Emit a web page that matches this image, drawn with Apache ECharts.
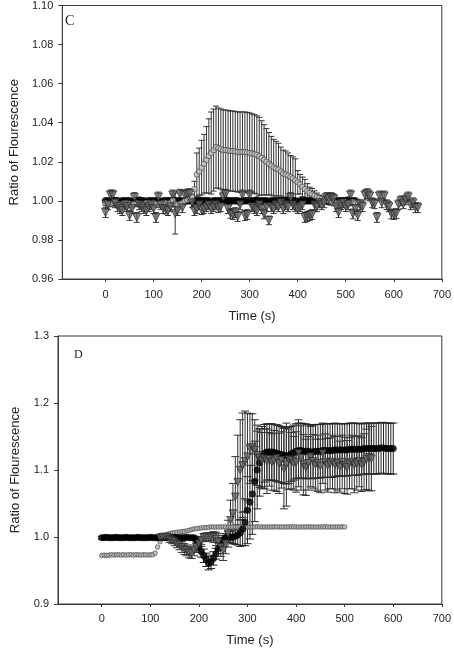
<!DOCTYPE html>
<html>
<head>
<meta charset="utf-8">
<script src="https://cdn.jsdelivr.net/npm/echarts@6/dist/echarts.min.js"></script>
<style>
html,body{margin:0;padding:0;background:#fff;}
#chart{width:454px;height:649px;}
</style>
</head>
<body>
<div id="chart"></div>
<script>
// ---------- shared axis ticks ----------
const X_TICKS = [0, 100, 200, 300, 400, 500, 600, 700];
const STEP_S = 5; // sampling interval (s)

// ---------- Panel C ----------
const C_BLACK_START = 0;
const C_BLACK = [
  1.0, 1.0, 0.9995, 1.0, 1.0, 1.0, 0.9995, 1.0, 1.0, 1.0,
  1.0, 0.9995, 1.0, 1.0, 1.0005, 1.0, 1.0, 0.9995, 1.0, 1.0,
  1.0, 1.0, 1.0, 0.9995, 1.0, 1.0, 1.0, 1.0, 1.0005, 1.0,
  1.0, 1.0, 0.9995, 1.0, 1.0, 1.0, 1.0, 1.0, 1.0, 1.0005,
  1.0, 1.0, 1.0, 1.0, 0.9995, 1.0, 1.0, 1.0, 1.0, 1.0,
  1.0005, 1.0, 1.0, 1.0, 1.0, 1.0, 0.9995, 1.0, 1.0, 1.0,
  1.0, 1.0, 1.0, 1.0005, 1.0, 1.0, 1.0, 1.0, 0.9995, 1.0,
  1.0, 1.0, 1.0, 1.0, 1.0, 1.0, 1.0005, 1.0, 1.0, 1.0,
  0.9995, 1.0, 1.0, 1.0, 1.0, 1.0, 1.0, 1.0, 1.0, 1.0005,
  1.0, 1.0, 1.0, 0.9995, 1.0, 1.0, 1.0, 1.0, 1.0, 1.0,
  1.0, 1.0005, 1.0, 1.0, 1.0
];

const C_GRAY_START = 0;
const C_GRAY = [
  0.999, 0.9985, 0.9985, 0.999, 0.999, 0.9985, 0.998, 0.9985, 0.999, 0.999,
  0.9985, 0.998, 0.9985, 0.999, 0.9985, 0.998, 0.9985, 0.999, 0.999, 0.9985,
  0.999, 0.9985, 0.998, 0.9985, 0.999, 0.999, 0.9985, 0.999, 1.0005, 0.9985,
  0.998, 0.9985, 0.999, 1.0, 1.0005, 1.001, 1.002, 1.006, 1.0135, 1.015,
  1.017, 1.019, 1.021, 1.023, 1.0245, 1.026, 1.0275, 1.027, 1.0265, 1.026,
  1.026, 1.0258, 1.0255, 1.0255, 1.0253, 1.025, 1.025, 1.025, 1.025, 1.0248,
  1.0245, 1.0243, 1.024, 1.0235, 1.0228, 1.022, 1.021, 1.020, 1.019, 1.018,
  1.017, 1.0165, 1.016, 1.015, 1.014, 1.0135, 1.013, 1.0122, 1.0115, 1.0105,
  1.0095, 1.0085, 1.0072, 1.006, 1.0048, 1.004, 1.0033, 1.0026, 1.002, 1.0015,
  1.001, 1.0006, 1.0003, 1.0, 0.9995, 0.999, 0.999, 0.9992, 0.999, 0.9993,
  0.9995, 0.999, 0.9992, 0.9995, 0.999, 0.9993
];
const C_GRAY_ERR = [
  0.0015, 0.0015, 0.0015, 0.0015, 0.0015, 0.0015, 0.0015, 0.0015, 0.0015, 0.0015,
  0.0015, 0.0015, 0.0015, 0.0015, 0.0015, 0.0015, 0.0015, 0.0015, 0.0015, 0.0015,
  0.0015, 0.0015, 0.0015, 0.0015, 0.0015, 0.0015, 0.0015, 0.0015, 0.003, 0.0015,
  0.0015, 0.0015, 0.0015, 0.0015, 0.0015, 0.0015, 0.0015, 0.004, 0.011, 0.012,
  0.014, 0.015, 0.017, 0.019, 0.021, 0.021, 0.021, 0.0205, 0.0205, 0.0205,
  0.0205, 0.0205, 0.0205, 0.0205, 0.0205, 0.0205, 0.0205, 0.0205, 0.0205, 0.0205,
  0.0205, 0.0202, 0.0201, 0.02, 0.02, 0.019, 0.018, 0.017, 0.016, 0.015,
  0.0145, 0.014, 0.0135, 0.0125, 0.012, 0.012, 0.0115, 0.011, 0.011, 0.011,
  0.006, 0.005, 0.005, 0.005, 0.004, 0.003, 0.003, 0.0025, 0.002, 0.0015,
  0.0015, 0.0015, 0.0015, 0.0015, 0.0015, 0.0015, 0.0015, 0.0015, 0.0015, 0.0015,
  0.0015, 0.0015, 0.0015, 0.0015, 0.0015, 0.0015
];

const C_TRI_START = 0;
const C_TRI = [
  0.994, 0.998, 1.003, 1.003, 0.999, 0.997, 0.996, 0.995, 0.998, 0.997,
  0.9925, 0.996, 1.0017, 0.9915, 0.998, 0.997, 0.996, 0.995, 0.997, 0.998,
  0.996, 0.9915, 1.002, 0.998, 0.996, 0.9958, 0.995, 0.997, 1.003, 0.9935,
  0.995, 1.0034, 0.9965, 1.003, 1.0035, 1.0037, 0.999, 0.995, 0.996, 0.998,
  0.9955, 0.996, 0.997, 0.998, 0.996, 0.997, 0.998, 0.9965, 0.997, 1.002,
  1.0034, 0.996, 0.9936, 0.993, 0.994, 0.992, 0.998, 1.003, 0.9925, 0.993,
  1.003, 0.997, 0.996, 0.995, 0.998, 0.996, 0.9933, 0.997, 0.99, 0.997,
  0.996, 0.998, 0.997, 0.999, 0.996, 0.998, 0.997, 1.0017, 0.998, 0.997,
  0.996, 0.997, 0.998, 0.9915, 0.992, 0.9925, 0.993, 0.998, 0.997, 0.999,
  0.998, 0.999, 1.0017, 1.001, 1.0017, 1.001, 0.997, 0.994, 0.998, 0.999,
  0.997, 0.998, 1.003, 0.9933, 0.996, 0.9925, 0.998, 0.997, 1.003, 1.0037,
  1.0025, 0.999, 0.9985, 0.9915, 1.0025, 0.999, 1.0025, 0.998, 0.997, 0.9933,
  0.993, 0.9935, 0.998, 1.0, 0.9985, 1.0005, 1.002, 0.998, 0.999, 0.9965,
  0.9965
];
const C_TRI_ERR = [
  0.0025, 0.0025, 0.0025, 0.0025, 0.0025, 0.0025, 0.0025, 0.0025, 0.0025, 0.0025,
  0.0025, 0.0025, 0.0025, 0.0025, 0.0025, 0.0025, 0.0025, 0.0025, 0.0025, 0.0025,
  0.0025, 0.0025, 0.0025, 0.0025, 0.0025, 0.0025, 0.0025, 0.0025, 0.0025, 0.0105,
  0.0025, 0.0025, 0.0025, 0.0025, 0.0025, 0.0025, 0.0025, 0.0025, 0.0025, 0.0025,
  0.0025, 0.0025, 0.0025, 0.0025, 0.0025, 0.0025, 0.0025, 0.0025, 0.0025, 0.0025,
  0.0025, 0.0025, 0.0025, 0.0025, 0.0025, 0.0025, 0.0025, 0.0025, 0.0025, 0.0025,
  0.0025, 0.0025, 0.0025, 0.0025, 0.0025, 0.0025, 0.0025, 0.0025, 0.0022, 0.0025,
  0.0025, 0.0025, 0.0025, 0.0025, 0.0025, 0.0025, 0.0025, 0.0025, 0.0025, 0.0025,
  0.0025, 0.0025, 0.0025, 0.0025, 0.0025, 0.0025, 0.0025, 0.0025, 0.0025, 0.0025,
  0.0025, 0.0025, 0.0025, 0.0025, 0.0025, 0.0025, 0.0025, 0.0025, 0.0025, 0.0025,
  0.0025, 0.0025, 0.0025, 0.0025, 0.0025, 0.0025, 0.0025, 0.0025, 0.0025, 0.0025,
  0.0025, 0.0025, 0.0025, 0.0025, 0.0025, 0.0025, 0.0025, 0.0025, 0.0025, 0.0025,
  0.0025, 0.0025, 0.0025, 0.0025, 0.0025, 0.0025, 0.0025, 0.0025, 0.0025, 0.0025,
  0.0025
];

// ---------- Panel D ----------
const D_LIGHT_START = 0;
const D_LIGHT = [
  0.9725, 0.973, 0.9725, 0.973, 0.9735, 0.973, 0.9735, 0.9735, 0.973, 0.9735,
  0.973, 0.9735, 0.9735, 0.973, 0.9735, 0.9735, 0.973, 0.9735, 0.9735, 0.973,
  0.9735, 0.9735, 0.976, 0.985, 0.993, 0.999, 1.002, 1.004, 1.005, 1.006,
  1.0065, 1.007, 1.0075, 1.008, 1.0085, 1.009, 1.01, 1.011, 1.012, 1.0125,
  1.013, 1.0135, 1.014, 1.014, 1.0145, 1.015, 1.015, 1.0148, 1.015, 1.015,
  1.0152, 1.015, 1.015, 1.0148, 1.015, 1.015, 1.015, 1.0152, 1.015, 1.015,
  1.0148, 1.015, 1.015, 1.015, 1.0152, 1.015, 1.015, 1.0148, 1.015, 1.015,
  1.015, 1.0152, 1.015, 1.015, 1.0148, 1.015, 1.015, 1.015, 1.0152, 1.015,
  1.015, 1.0148, 1.015, 1.015, 1.015, 1.0152, 1.015, 1.015, 1.0148, 1.015,
  1.015, 1.015, 1.0152, 1.015, 1.015, 1.0148, 1.015, 1.015, 1.015, 1.0152,
  1.015
];

const D_BLACK_START = 0;
const D_BLACK = [
  0.999, 0.999, 0.9995, 0.999, 0.999, 0.999, 0.9995, 0.999, 0.999, 0.999,
  0.9995, 0.999, 0.999, 0.999, 0.999, 0.9995, 0.999, 0.999, 0.999, 0.999,
  0.9995, 0.999, 0.999, 0.999, 0.999, 0.9995, 0.999, 0.999, 0.999, 0.999,
  0.9995, 0.999, 0.999, 0.999, 0.999, 0.9995, 0.999, 0.999, 0.999, 0.995,
  0.985, 0.978, 0.972, 0.966, 0.961, 0.963, 0.968, 0.975, 0.983, 0.99,
  0.996, 0.999, 1.0, 1.0, 1.0, 1.001, 1.003, 1.006, 1.012, 1.022,
  1.04, 1.052, 1.064, 1.083, 1.1, 1.111, 1.12, 1.125, 1.127, 1.127,
  1.127, 1.126, 1.125, 1.124, 1.123, 1.122, 1.121, 1.122, 1.124, 1.126,
  1.128, 1.129, 1.129, 1.128, 1.128, 1.128, 1.127, 1.127, 1.128, 1.128,
  1.128, 1.129, 1.129, 1.129, 1.129, 1.129, 1.13, 1.13, 1.13, 1.13,
  1.13, 1.13, 1.131, 1.131, 1.131, 1.131, 1.131, 1.131, 1.132, 1.132,
  1.132, 1.132, 1.132, 1.132, 1.132, 1.133, 1.133, 1.132, 1.132, 1.132,
  1.132
];
const D_BLACK_ERR = [
  0.002, 0.002, 0.002, 0.002, 0.002, 0.002, 0.002, 0.002, 0.002, 0.002,
  0.002, 0.002, 0.002, 0.002, 0.002, 0.002, 0.002, 0.002, 0.002, 0.002,
  0.002, 0.002, 0.002, 0.002, 0.002, 0.002, 0.002, 0.002, 0.002, 0.002,
  0.002, 0.002, 0.002, 0.002, 0.002, 0.002, 0.002, 0.002, 0.002, 0.004,
  0.006, 0.008, 0.01, 0.01, 0.01, 0.01, 0.01, 0.008, 0.008, 0.006,
  0.006, 0.006, 0.008, 0.008, 0.01, 0.012, 0.015, 0.02, 0.025, 0.035,
  0.05, 0.055, 0.06, 0.06, 0.058, 0.05, 0.045, 0.043, 0.042, 0.042,
  0.042, 0.042, 0.042, 0.042, 0.042, 0.042, 0.042, 0.042, 0.041, 0.041,
  0.041, 0.041, 0.041, 0.041, 0.041, 0.04, 0.04, 0.04, 0.04, 0.04,
  0.04, 0.04, 0.04, 0.04, 0.04, 0.04, 0.04, 0.039, 0.039, 0.039,
  0.039, 0.039, 0.039, 0.039, 0.039, 0.039, 0.038, 0.038, 0.038, 0.038,
  0.038, 0.038, 0.038, 0.038, 0.038, 0.038, 0.038, 0.038, 0.038, 0.038,
  0.038
];

const D_TRI_START = 120;
const D_TRI = [
  0.999, 1.0, 1.0, 1.0, 0.997, 0.995, 0.993, 0.99, 0.988, 0.985,
  0.982, 0.98, 0.977, 0.976, 0.98, 0.985, 0.99, 0.995, 0.999, 1.0,
  1.0, 1.0, 1.0, 0.997, 0.993, 0.985, 0.98, 0.99, 1.005, 1.025,
  1.035, 1.06, 1.082, 1.1, 1.107, 1.113, 1.12, 1.132, 1.134, 1.13,
  1.122, 1.118, 1.114, 1.117, 1.113, 1.116, 1.112, 1.114, 1.118, 1.11,
  1.115, 1.102, 1.108, 1.116, 1.114, 1.11, 1.112, 1.125, 1.118, 1.108,
  1.104, 1.11, 1.12, 1.113, 1.108, 1.11, 1.106, 1.125, 1.112, 1.107,
  1.11, 1.112, 1.108, 1.11, 1.105, 1.112, 1.107, 1.104, 1.11, 1.112,
  1.108, 1.11, 1.113, 1.108, 1.112, 1.116, 1.119, 1.117
];
const D_TRI_ERR = [
  0.004, 0.004, 0.004, 0.004, 0.005, 0.005, 0.006, 0.006, 0.007, 0.008,
  0.008, 0.008, 0.008, 0.008, 0.008, 0.008, 0.008, 0.006, 0.006, 0.006,
  0.006, 0.006, 0.008, 0.01, 0.012, 0.014, 0.015, 0.015, 0.02, 0.03,
  0.045, 0.06, 0.07, 0.075, 0.078, 0.075, 0.065, 0.052, 0.05, 0.045,
  0.045, 0.044, 0.042, 0.045, 0.048, 0.04, 0.042, 0.045, 0.05, 0.045,
  0.042, 0.06, 0.062, 0.045, 0.042, 0.04, 0.045, 0.05, 0.048, 0.045,
  0.042, 0.04, 0.045, 0.04, 0.038, 0.042, 0.04, 0.045, 0.042, 0.04,
  0.038, 0.04, 0.042, 0.04, 0.038, 0.04, 0.042, 0.04, 0.038, 0.04,
  0.042, 0.04, 0.038, 0.04, 0.042, 0.045, 0.05, 0.048
];

// ---------- build ----------
function pts(start, vals, errs) {
  return vals.map((v, i) => [start + i * STEP_S, v, errs ? errs[i] : 0]);
}

const FONT = '"Liberation Sans", Arial, sans-serif';
const AX = '#3a3a3a';

function errBar(color, cap) {
  return function (params, api) {
    const x = api.value(0), y = api.value(1), e = api.value(2);
    const a = api.coord([x, y + e]);
    const b = api.coord([x, y - e]);
    const st = { stroke: color, lineWidth: 1 };
    return {
      type: 'group',
      children: [
        { type: 'line', shape: { x1: a[0], y1: a[1], x2: b[0], y2: b[1] }, style: st },
        { type: 'line', shape: { x1: a[0] - cap, y1: a[1], x2: a[0] + cap, y2: a[1] }, style: st },
        { type: 'line', shape: { x1: b[0] - cap, y1: b[1], x2: b[0] + cap, y2: b[1] }, style: st }
      ]
    };
  };
}

function xAxis(gridIndex, labelMargin, nameGap) {
  return {
    type: 'value', gridIndex, min: -90, max: 700,
    axisLine: { show: true, onZero: false, lineStyle: { color: AX, width: 1 } },
    axisTick: { show: true, length: 3, customValues: X_TICKS, lineStyle: { color: AX } },
    axisLabel: { customValues: X_TICKS, margin: labelMargin, color: '#222', fontSize: 11, fontFamily: FONT },
    splitLine: { show: false },
    name: 'Time (s)', nameLocation: 'middle', nameGap,
    nameTextStyle: { fontSize: 13, fontFamily: FONT, color: '#222' }
  };
}
function yAxis(gridIndex, min, max, interval, digits, nameGap) {
  return {
    type: 'value', gridIndex, min, max, interval,
    axisLine: { show: true, onZero: false, lineStyle: { color: AX, width: 1 } },
    axisTick: { show: true, length: 4, lineStyle: { color: AX } },
    axisLabel: { margin: 9, color: '#222', fontSize: 11, fontFamily: FONT,
      formatter: v => Number(v).toFixed(digits) },
    splitLine: { show: false },
    name: 'Ratio of Flourescence', nameLocation: 'middle', nameGap,
    nameTextStyle: { fontSize: 13, fontFamily: FONT, color: '#222' }
  };
}

const chart = echarts.init(document.getElementById('chart'), null, { renderer: 'canvas' });
chart.setOption({
  animation: false,
  backgroundColor: '#fff',
  grid: [
    { left: 52, top: 4, width: 393, height: 275, show: true, borderColor: AX, borderWidth: 1, backgroundColor: 'transparent' },
    { left: 58, top: 336, width: 384, height: 268, show: true, borderColor: AX, borderWidth: 1, backgroundColor: 'transparent' }
  ],
  xAxis: [xAxis(0, 10, 31), xAxis(1, 9, 30)],
  yAxis: [yAxis(0, 0.96, 1.10, 0.02, 2, 41), yAxis(1, 0.9, 1.3, 0.1, 1, 36)],
  graphic: [
    { type: 'text', left: 65, top: 14, style: { text: 'C', font: '14px "Liberation Serif", serif', fill: '#222' } },
    { type: 'text', left: 74, top: 349, style: { text: 'D', font: '12px "Liberation Serif", serif', fill: '#222' } }
  ],
  series: [
    // Panel C
    { type: 'custom', xAxisIndex: 0, yAxisIndex: 0, renderItem: errBar('#333', 3),
      data: pts(C_GRAY_START, C_GRAY, C_GRAY_ERR), z: 1 },
    { type: 'custom', xAxisIndex: 0, yAxisIndex: 0, renderItem: errBar('#333', 3),
      data: pts(C_TRI_START, C_TRI, C_TRI_ERR), z: 1 },
    { type: 'scatter', xAxisIndex: 0, yAxisIndex: 0, symbol: 'circle', symbolSize: 7,
      itemStyle: { color: '#000', borderColor: '#000', borderWidth: 0.5 },
      data: pts(C_BLACK_START, C_BLACK), z: 2 },
    { type: 'scatter', xAxisIndex: 0, yAxisIndex: 0, symbol: 'circle', symbolSize: 5.5,
      itemStyle: { color: '#c8c8c8', borderColor: '#333', borderWidth: 0.8 },
      data: pts(C_GRAY_START, C_GRAY), z: 3 },
    { type: 'scatter', xAxisIndex: 0, yAxisIndex: 0, symbol: 'triangle', symbolRotate: 180, symbolSize: 8,
      itemStyle: { color: '#666', borderColor: '#1a1a1a', borderWidth: 0.8 },
      data: pts(C_TRI_START, C_TRI), z: 4 },
    // Panel D
    { type: 'custom', xAxisIndex: 1, yAxisIndex: 1, renderItem: errBar('#222', 4),
      data: pts(D_BLACK_START, D_BLACK, D_BLACK_ERR), z: 1 },
    { type: 'custom', xAxisIndex: 1, yAxisIndex: 1, renderItem: errBar('#333', 4),
      data: pts(D_TRI_START, D_TRI, D_TRI_ERR), z: 1 },
    { type: 'scatter', xAxisIndex: 1, yAxisIndex: 1, symbol: 'circle', symbolSize: 4.5,
      itemStyle: { color: '#bdbdbd', borderColor: '#333', borderWidth: 0.8 },
      data: pts(D_LIGHT_START, D_LIGHT), z: 2 },
    { type: 'scatter', xAxisIndex: 1, yAxisIndex: 1, symbol: 'circle', symbolSize: 6.5,
      itemStyle: { color: '#000', borderColor: '#000', borderWidth: 0.5 },
      data: pts(D_BLACK_START, D_BLACK), z: 3 },
    { type: 'scatter', xAxisIndex: 1, yAxisIndex: 1, symbol: 'triangle', symbolRotate: 180, symbolSize: 7.5,
      itemStyle: { color: '#666', borderColor: '#1a1a1a', borderWidth: 0.8 },
      data: pts(D_TRI_START, D_TRI), z: 4 }
  ]
});
</script>
</body>
</html>
